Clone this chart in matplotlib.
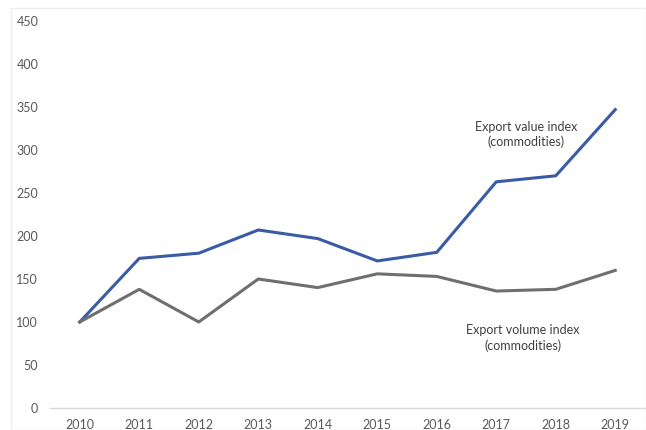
import matplotlib
matplotlib.use("Agg")
import matplotlib.pyplot as plt
from matplotlib.patches import Rectangle

years = ["2010", "2011", "2012", "2013", "2014", "2015", "2016", "2017", "2018", "2019"]
export_value_index = [100, 174, 180, 207, 197, 171, 181, 263, 270, 347]
export_volume_index = [100, 138, 100, 150, 140, 156, 153, 136, 138, 160]
y_ticks = [0, 50, 100, 150, 200, 250, 300, 350, 400, 450]

plt.rcParams["font.family"] = ["Lato", "DejaVu Sans"]

fig = plt.figure(figsize=(6.46, 4.30), dpi=100)
ax = fig.add_axes([50 / 646, 22 / 430, 595 / 646, 387 / 430])

# faint chart-area frame
fig.patches.append(Rectangle((11 / 646, 0), 1 - 11 / 646, 1 - 8 / 430,
                             transform=fig.transFigure, fill=False,
                             edgecolor="#EFEFEF", linewidth=1))

x = list(range(len(years)))
ax.plot(x, export_value_index, color="#3A5BA5", linewidth=2.2, solid_joinstyle="round")
ax.plot(x, export_volume_index, color="#6F6F6F", linewidth=2.2, solid_joinstyle="round")

ax.set_xlim(-0.5, len(years) - 0.5)
ax.set_ylim(0, 450)
ax.set_xticks(x)
ax.set_xticklabels(years)
ax.set_yticks(y_ticks)

for side in ["top", "right", "left"]:
    ax.spines[side].set_visible(False)
ax.spines["bottom"].set_color("#D9D9D9")
ax.spines["bottom"].set_linewidth(1)
ax.tick_params(axis="both", length=0, labelsize=9, colors="#595959")
ax.tick_params(axis="x", pad=8)
ax.tick_params(axis="y", pad=8.5)

ax.text(7.5, 318, "Export value index\n(commodities)", ha="center", va="center",
        fontsize=9, color="#404040", linespacing=1.3)
ax.text(7.45, 81, "Export volume index\n(commodities)", ha="center", va="center",
        fontsize=9, color="#404040", linespacing=1.3)

fig.savefig("out.png", dpi=100)
